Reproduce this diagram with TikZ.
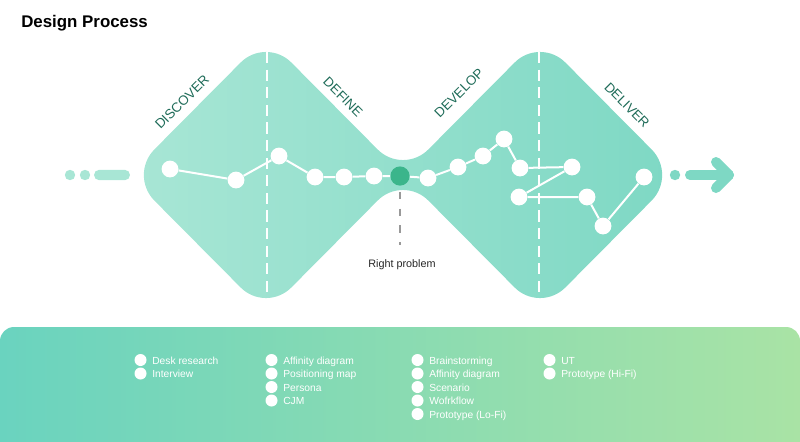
\documentclass[tikz,border=0pt]{standalone}
\usepackage{fontspec}
\setmainfont{Liberation Sans}
\usetikzlibrary{positioning}

\definecolor{mintL}{HTML}{A8E6D5}
\definecolor{mintR}{HTML}{7ED8C4}
\definecolor{phaseInk}{HTML}{1E6B58}
\definecolor{hubGreen}{HTML}{3BB58B}
\definecolor{panelL}{HTML}{6AD3BF}
\definecolor{panelR}{HTML}{A9E3A5}

\begin{document}
\begin{tikzpicture}[
  x=0.025cm, y=-0.025cm,
  every node/.style={font=\small},
  dot/.style={circle, fill=white, minimum size=4.2mm, inner sep=0pt},
  hubdot/.style={circle, fill=hubGreen, minimum size=4.8mm, inner sep=0pt},
  sidedot/.style={circle, fill=#1, minimum size=2.6mm, inner sep=0pt},
  pill/.style={rectangle, rounded corners=1.3mm, fill=mintL, minimum width=9mm,
               minimum height=2.6mm, inner sep=0pt},
  link/.style={draw=white, line width=0.5mm},
  phaselbl/.style={font=\fontsize{9.5}{11}\selectfont, text=phaseInk, rotate=#1},
  split/.style={draw=white, line width=0.5mm, dash pattern=on 2.8mm off 1.6mm},
  probline/.style={draw=gray!80, line width=0.5mm, dash pattern=on 1.8mm off 2.4mm},
  exit/.style={draw=mintR, line width=2.5mm, line cap=round, line join=round},
  bullet/.style={circle, fill=white, minimum size=3mm, inner sep=0pt},
  item/.style={anchor=west, text=white, inner sep=0pt, text height=1.6ex, text depth=0.4ex,
               font=\fontsize{7.3}{8}\selectfont,
               label={[bullet, label distance=1.3mm]left:{}}},
]
\useasboundingbox (0,0) rectangle (800,441);

% ── Titre ────────────────────────────────────────────────────────────
\node[font=\bfseries\fontsize{12}{14}\selectfont, anchor=base west, inner sep=0pt]
  (title) at (21,27) {Design Process};

% ── Double diamant ───────────────────────────────────────────────────
\shade[left color=mintL, right color=mintR, rounded corners=9mm]
  (129,175) -- (266,37) -- (403,175) -- (540,37) -- (677,175)
  -- (540,313) -- (403,175) -- (266,313) -- cycle;
\draw[split] (267,52) -- (267,298);
\draw[split] (539,52) -- (539,298);

% ── Phases ───────────────────────────────────────────────────────────
\node[phaselbl=45]  (discover) at (182,102) {DISCOVER};
\node[phaselbl=-45] (define)   at (343,97)  {DEFINE};
\node[phaselbl=45]  (develop)  at (459,93)  {DEVELOP};
\node[phaselbl=-45] (deliver)  at (627,105) {DELIVER};

% ── Entrée / sortie ──────────────────────────────────────────────────
\node[sidedot=mintL] (in1) at (70,175) {};
\node[sidedot=mintL] (in2) at (85,175) {};
\node[pill] (inbar) at (112,175) {};
\node[sidedot=mintR] (out1) at (675,175) {};
\coordinate (shaft) at (690,175);
\coordinate (tip)   at (729,175);
\draw[exit] (shaft) -- (tip);
\draw[exit] (716,162) -- (tip) -- (716,188);

% ── Étapes ───────────────────────────────────────────────────────────
\node[dot] (s1)  at (170,169) {};
\node[dot] (s2)  at (236,180) {};
\node[dot] (s3)  at (279,156) {};
\node[dot] (s4)  at (315,177) {};
\node[dot] (s5)  at (344,177) {};
\node[dot] (s6)  at (374,176) {};
\node[hubdot] (hub) at (400,176) {};
\node[dot] (s7)  at (428,178) {};
\node[dot] (s8)  at (458,167) {};
\node[dot] (s9)  at (483,156) {};
\node[dot] (s10) at (504,139) {};
\node[dot] (s11) at (520,168) {};
\node[dot] (s12) at (572,167) {};
\node[dot] (s13) at (519,197) {};
\node[dot] (s14) at (587,197) {};
\node[dot] (s15) at (603,226) {};
\node[dot] (s16) at (644,177) {};

\draw[link] (s1) -- (s2) -- (s3) -- (s4) -- (s5) -- (s6) -- (hub);
\draw[link] (hub) -- (s7) -- (s8) -- (s9) -- (s10) -- (s11) -- (s12)
  -- (s13) -- (s14) -- (s15) -- (s16);

% ── Right problem ────────────────────────────────────────────────────
\node[font=\fontsize{7.7}{9}\selectfont, text=black!85] (rp) at (402,265) {Right problem};
\draw[probline] ([yshift=-1.5mm]hub.south) -- ([yshift=2.5mm]hub.south |- rp.north);

% ── Panneau des méthodes ─────────────────────────────────────────────
\shade[left color=panelL, right color=panelR, rounded corners=3.5mm]
  (0,327) rectangle (800,470);

\node[item] (m11) at (152,360)   {Desk research};
\node[item] (m12) at (152,373.5) {Interview};

\node[item] (m21) at (283,360)   {Affinity diagram};
\node[item] (m22) at (283,373.5) {Positioning map};
\node[item] (m23) at (283,387)   {Persona};
\node[item] (m24) at (283,400.5) {CJM};

\node[item] (m31) at (429,360)   {Brainstorming};
\node[item] (m32) at (429,373.5) {Affinity diagram};
\node[item] (m33) at (429,387)   {Scenario};
\node[item] (m34) at (429,400.5) {Wofrkflow};
\node[item] (m35) at (429,414)   {Prototype (Lo-Fi)};

\node[item] (m41) at (561,360)   {UT};
\node[item] (m42) at (561,373.5) {Prototype (Hi-Fi)};

\end{tikzpicture}
\end{document}
